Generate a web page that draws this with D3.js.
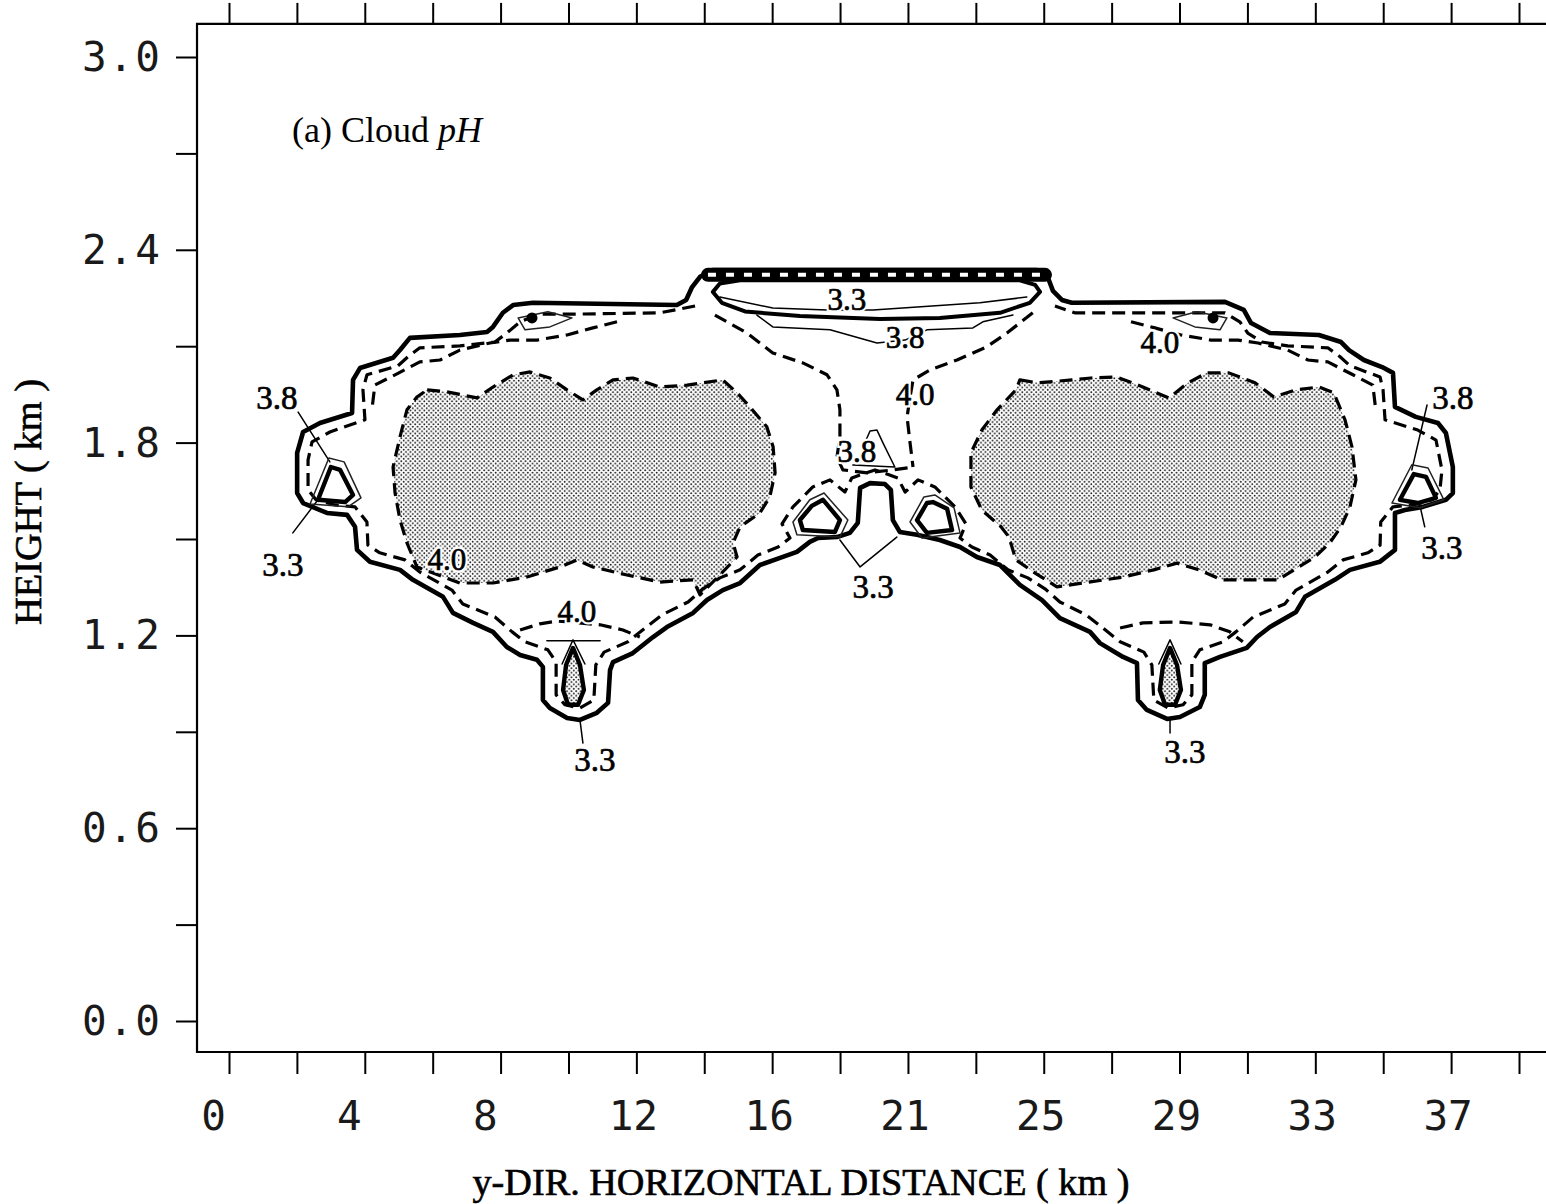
<!DOCTYPE html>
<html>
<head>
<meta charset="utf-8">
<script src="https://cdn.jsdelivr.net/npm/d3@7"></script>
<style>
  body { margin: 0; background: #fff; }
  svg { display: block; }
</style>
</head>
<body>
<svg id="chart" width="1546" height="1204"></svg>
<script>
// axis values (km)
const xTickStep = 39 / 19;
const xTicks = d3.range(20).map(i => i * xTickStep);
const xTickLabels = ["0", "4", "8", "12", "16", "21", "25", "29", "33", "37"];
const yTicks = [0, 0.3, 0.6, 0.9, 1.2, 1.5, 1.8, 2.1, 2.4, 2.7, 3.0];
const yTickLabels = ["0.0", "0.6", "1.2", "1.8", "2.4", "3.0"];
const xFrame = [-0.967, 40.2];
const yFrame = [-0.0965, 3.103];

// cloud boundary (thick solid), [y-distance km, height km]
const cloudEdge = [[2.06,1.643],[2.06,1.768],[2.24,1.833],[2.75,1.861],[3.72,1.892],[3.75,1.995],[3.96,2.032],[4.96,2.064],[5.17,2.088],[5.47,2.126],[6.98,2.135],[7.80,2.144],[7.98,2.160],[8.28,2.204],[8.59,2.228],[9.19,2.235],[13.54,2.228],[13.82,2.244],[14.00,2.284],[14.24,2.316],[14.63,2.337],[24.43,2.337],[24.76,2.313],[24.91,2.272],[25.18,2.244],[25.48,2.235],[30.11,2.238],[30.68,2.213],[30.90,2.172],[31.47,2.141],[32.95,2.135],[33.62,2.113],[33.86,2.088],[34.31,2.057],[34.86,2.035],[35.19,2.017],[35.25,1.911],[35.88,1.880],[36.55,1.861],[36.79,1.830],[37.00,1.724],[37.00,1.643],[36.79,1.622],[36.09,1.600],[35.55,1.590],[35.25,1.581],[35.25,1.466],[34.79,1.429],[33.89,1.404],[33.43,1.373],[32.53,1.320],[32.26,1.273],[31.47,1.226],[31.08,1.195],[30.77,1.161],[29.96,1.133],[29.50,1.114],[29.50,1.015],[29.35,0.977],[28.75,0.946],[28.36,0.940],[27.75,0.968],[27.48,0.999],[27.45,1.114],[27.03,1.133],[26.33,1.176],[26.03,1.211],[25.12,1.254],[24.58,1.310],[23.91,1.357],[23.31,1.419],[22.61,1.444],[22.10,1.475],[21.49,1.497],[20.80,1.513],[20.28,1.522],[20.07,1.559],[20.01,1.653],[19.83,1.671],[19.38,1.674],[19.08,1.659],[19.01,1.550],[18.77,1.519],[18.38,1.506],[17.81,1.503],[17.56,1.491],[17.17,1.460],[16.66,1.441],[16.05,1.419],[15.45,1.363],[14.93,1.341],[14.45,1.310],[14.03,1.270],[13.24,1.226],[12.82,1.195],[12.21,1.145],[11.61,1.117],[11.52,1.092],[11.46,0.990],[11.12,0.959],[10.61,0.937],[10.22,0.943],[9.70,0.974],[9.49,0.999],[9.49,1.102],[9.31,1.124],[8.80,1.139],[8.40,1.164],[7.98,1.211],[7.38,1.239],[6.77,1.270],[6.47,1.320],[5.56,1.373],[5.17,1.404],[4.26,1.429],[3.87,1.466],[3.81,1.538],[3.57,1.575],[2.96,1.581],[2.24,1.612]];

// dashed contour just inside the boundary
const innerRing = [[14.09,2.225],[13.03,2.204],[10.61,2.200],[9.40,2.200],[8.80,2.176],[8.40,2.141],[8.04,2.113],[6.98,2.101],[5.77,2.095],[5.41,2.067],[5.11,2.039],[4.17,2.011],[4.05,1.964],[4.11,1.871],[3.05,1.833],[2.51,1.802],[2.39,1.746],[2.39,1.653],[2.63,1.622],[3.20,1.606],[3.81,1.600],[4.17,1.553],[4.20,1.481],[4.56,1.457],[5.32,1.435],[5.77,1.397],[6.74,1.341],[7.07,1.298],[8.04,1.257],[8.56,1.211],[8.95,1.180],[9.64,1.155],[9.89,1.117],[9.89,1.015],[10.16,0.984],[10.61,0.974],[11.03,0.999],[11.09,1.108],[11.34,1.148],[12.06,1.180],[12.58,1.223],[13.09,1.264],[13.88,1.304],[14.33,1.345],[14.84,1.379],[15.45,1.404],[15.99,1.450],[16.60,1.475],[16.96,1.503],[16.72,1.547],[17.05,1.600],[17.65,1.662],[18.17,1.684],[18.62,1.646],[18.83,1.690],[19.53,1.715],[20.22,1.690],[20.44,1.646],[20.83,1.684],[21.34,1.662],[21.95,1.600],[22.28,1.547],[22.10,1.503],[22.46,1.475],[23.01,1.450],[23.55,1.404],[24.15,1.379],[24.67,1.345],[25.12,1.304],[25.91,1.264],[26.42,1.223],[26.94,1.180],[27.66,1.148],[27.90,1.108],[27.96,0.999],[28.39,0.974],[28.84,0.984],[29.11,1.015],[29.11,1.117],[29.35,1.155],[30.05,1.180],[30.44,1.211],[30.96,1.257],[31.92,1.298],[32.26,1.341],[33.22,1.397],[33.68,1.435],[34.43,1.457],[34.80,1.481],[34.82,1.553],[35.19,1.600],[35.79,1.606],[36.37,1.622],[36.61,1.653],[36.67,1.715],[36.49,1.808],[35.94,1.839],[34.95,1.871],[34.89,1.964],[34.80,2.004],[33.89,2.039],[33.59,2.067],[33.22,2.095],[32.01,2.101],[31.23,2.113],[30.80,2.141],[30.56,2.176],[30.11,2.204],[28.75,2.204],[25.57,2.204],[24.97,2.225]];

const upperRingLeft = [[11.73,2.176],[11.00,2.157],[10.22,2.135],[9.31,2.119],[8.49,2.119],[7.89,2.110],[6.98,2.088],[6.38,2.057],[5.77,2.051],[5.02,2.011],[4.41,1.979],[4.32,1.902]];
const upperRingRight = [[27.27,2.176],[27.99,2.157],[28.78,2.135],[29.69,2.119],[30.50,2.119],[31.11,2.110],[32.01,2.088],[32.62,2.057],[33.22,2.051],[33.98,2.011],[34.58,1.979],[34.67,1.902]];

// pH 4.0 funnel below the cap
const funnelLeft = [[14.69,2.197],[15.66,2.141],[16.44,2.079],[17.35,2.048],[18.08,2.011],[18.38,1.964],[18.47,1.902],[18.47,1.818],[18.38,1.755],[18.56,1.715],[19.29,1.706],[20.07,1.715],[20.68,1.724]];
const funnelRight = [[24.30,2.204],[23.52,2.141],[22.91,2.098],[22.01,2.057],[21.19,2.026],[20.68,1.995],[20.59,1.942],[20.50,1.880],[20.59,1.799],[20.68,1.724]];

// stippled regions
const blobLeft = [[5.99,1.964],[6.59,1.958],[7.50,1.939],[7.98,1.973],[8.59,2.011],[9.10,2.020],[9.70,2.001],[10.22,1.964],[10.70,1.933],[11.12,1.964],[11.61,1.995],[12.21,2.001],[13.03,1.973],[13.85,1.979],[14.93,1.995],[15.36,1.955],[15.75,1.911],[16.26,1.849],[16.45,1.787],[16.51,1.706],[16.35,1.631],[16.05,1.581],[15.45,1.538],[15.24,1.488],[15.36,1.444],[14.84,1.388],[14.24,1.326],[14.03,1.373],[13.03,1.366],[12.03,1.388],[11.00,1.413],[10.52,1.435],[10.01,1.413],[9.01,1.382],[7.98,1.363],[6.98,1.363],[6.17,1.394],[5.68,1.413],[5.38,1.488],[5.17,1.559],[5.02,1.643],[4.96,1.724],[5.17,1.818],[5.38,1.902],[5.68,1.942]];
const blobRight = [[23.91,1.995],[24.46,1.986],[25.48,1.995],[26.06,2.001],[26.84,2.004],[27.63,1.973],[28.42,1.939],[28.99,1.986],[29.56,2.017],[30.23,2.017],[31.02,1.986],[31.59,1.942],[32.26,1.964],[32.95,1.973],[33.40,1.955],[33.74,1.871],[33.95,1.787],[34.07,1.684],[33.89,1.600],[33.62,1.538],[33.28,1.488],[32.83,1.444],[32.04,1.394],[31.71,1.373],[30.90,1.373],[30.02,1.373],[29.32,1.404],[28.66,1.425],[27.96,1.404],[27.06,1.382],[25.82,1.363],[25.03,1.351],[24.37,1.394],[23.79,1.435],[23.58,1.506],[23.34,1.538],[22.76,1.590],[22.43,1.662],[22.43,1.768],[22.76,1.839],[23.22,1.902],[23.79,1.964]];

// cloud top cap
const capBand = [[14.48,2.322],[24.67,2.322]];
const capRing = [[14.63,2.269],[14.84,2.295],[15.45,2.305],[23.91,2.305],[24.37,2.291],[24.52,2.269],[24.21,2.235],[23.31,2.204],[21.49,2.188],[19.68,2.185],[17.26,2.194],[15.60,2.208],[14.90,2.235]];
const cap33 = [[14.84,2.253],[16.44,2.219],[18.08,2.213],[19.47,2.213],[22.70,2.235],[24.12,2.253]];
const cap38 = [[15.96,2.197],[16.44,2.160],[18.17,2.151],[19.59,2.110],[20.44,2.119],[21.10,2.151],[22.49,2.157],[22.79,2.176],[23.70,2.197]];
const center38 = [[19.26,1.808],[19.38,1.836],[19.59,1.839],[19.80,1.793],[20.13,1.724],[18.86,1.730]];

// pH 3.3 pockets (thick) and the 3.8 rings round them (thin)
const pockets = [
  [[2.69,1.622],[3.08,1.724],[3.36,1.715],[3.75,1.637],[3.51,1.615]],
  [[35.40,1.622],[35.82,1.702],[36.19,1.693],[36.49,1.628],[35.94,1.612]],
  [[17.26,1.559],[17.62,1.603],[17.96,1.622],[18.47,1.559],[18.32,1.522],[17.35,1.528]],
  [[20.80,1.559],[21.10,1.612],[21.28,1.615],[21.71,1.594],[21.86,1.528],[21.10,1.519]]
];
const pocketRings = [
  [[2.45,1.609],[3.02,1.752],[3.48,1.740],[3.99,1.628],[3.60,1.600]],
  [[35.16,1.612],[35.76,1.731],[36.25,1.721],[36.73,1.622],[36.00,1.597]],
  [[17.05,1.553],[17.56,1.622],[17.99,1.643],[18.71,1.559],[18.47,1.506],[17.17,1.513]],
  [[20.59,1.553],[21.01,1.631],[21.34,1.637],[21.92,1.597],[22.10,1.519],[20.95,1.503]]
];
const spikes = [
  [[10.40,1.161],[10.61,1.108],[10.73,1.030],[10.55,0.984],[10.25,0.984],[10.10,1.030],[10.19,1.108]],
  [[28.45,1.161],[28.66,1.108],[28.78,1.030],[28.60,0.984],[28.30,0.984],[28.14,1.030],[28.24,1.108]]
];
const spikeTips = [
  [[10.07,1.111],[10.40,1.186],[10.76,1.111]],
  [[28.11,1.111],[28.45,1.186],[28.78,1.111]]
];
const lobeArcs = [
  [[8.80,1.217],[9.40,1.236],[9.92,1.245],[11.22,1.233],[11.91,1.217],[12.42,1.195]],
  [[26.94,1.223],[27.63,1.239],[28.66,1.242],[29.66,1.233],[30.26,1.211],[30.65,1.180]]
];
const lobeBar = [[9.61,1.183],[11.22,1.183]];
const topDots = [[9.16,2.188],[29.75,2.188]];
const dotLoops = [
  [[8.74,2.188],[8.95,2.151],[9.70,2.160],[10.37,2.188],[9.64,2.207]],
  [[30.17,2.188],[29.96,2.151],[29.20,2.160],[28.54,2.188],[29.26,2.207]]
];

// label leaders
const leaders = [
  [[2.09,1.895],[3.05,1.740]],
  [[1.93,1.519],[2.69,1.622]],
  [[18.47,1.497],[19.08,1.413],[20.19,1.506]],
  [[36.22,1.917],[35.76,1.715]],
  [[36.15,1.538],[36.00,1.606]],
  [[10.61,0.937],[10.70,0.865]],
  [[28.45,0.937],[28.45,0.896]]
];

// contour labels: text, y-distance, height (text centre)
const bigLabels = [["3.8",1.45,1.939],["3.3",1.63,1.419],["3.3",19.47,1.351],["3.8",37.00,1.939],["3.3",36.67,1.472],["3.3",11.06,0.812],["3.3",28.90,0.837]];
const smallLabels = [["3.3",18.68,2.244],["3.8",20.44,2.126],["4.0",20.74,1.948],["3.8",18.98,1.771],["4.0",28.14,2.110],["4.0",6.59,1.435],["4.0",10.52,1.273]];

const svg = d3.select("#chart");
svg.append("rect").attr("width", 1546).attr("height", 1204).attr("fill", "#fff");

const x = d3.scaleLinear().domain([0, 39]).range([229, 1519]);
const y = d3.scaleLinear().domain([0, 3]).range([1021, 57]);

const defs = svg.append("defs");
const pat = defs.append("pattern").attr("id", "stip")
  .attr("patternUnits", "userSpaceOnUse").attr("width", 4.6).attr("height", 4.6);
pat.append("circle").attr("cx", 1.15).attr("cy", 1.15).attr("r", 0.92).attr("fill", "#111");
pat.append("circle").attr("cx", 3.45).attr("cy", 3.45).attr("r", 0.92).attr("fill", "#111");

const line = d3.line().x(d => x(d[0])).y(d => y(d[1]));
const closed = d3.line().x(d => x(d[0])).y(d => y(d[1])).curve(d3.curveLinearClosed);

const g = svg.append("g").attr("stroke-linejoin", "round").attr("stroke-linecap", "round");

// stippled regions
g.selectAll(".blob").data([blobLeft, blobRight]).enter().append("path")
  .attr("d", closed).attr("fill", "url(#stip)")
  .attr("stroke", "#000").attr("stroke-width", 3.2).attr("stroke-dasharray", "13 7")
  .attr("stroke-linecap", "butt");

// dashed contours
const dashed = [innerRing, upperRingLeft, upperRingRight, funnelLeft, funnelRight, ...lobeArcs];
g.selectAll(".dash").data(dashed).enter().append("path")
  .attr("d", line).attr("fill", "none")
  .attr("stroke", "#000").attr("stroke-width", 3.2).attr("stroke-dasharray", "13 7")
  .attr("stroke-linecap", "butt");

// cloud boundary
g.append("path").attr("d", closed(cloudEdge)).attr("fill", "none")
  .attr("stroke", "#000").attr("stroke-width", 4.6);

// cap
g.append("path").attr("d", line(capBand)).attr("fill", "none")
  .attr("stroke", "#000").attr("stroke-width", 14);
g.append("path").attr("d", line(capBand)).attr("fill", "none")
  .attr("stroke", "#fff").attr("stroke-width", 4).attr("stroke-dasharray", "8 10")
  .attr("stroke-linecap", "butt");
g.append("path").attr("d", closed(capRing)).attr("fill", "none")
  .attr("stroke", "#000").attr("stroke-width", 4);

// thin contours
const thin = [cap33, cap38, center38, lobeBar, ...spikeTips, ...leaders];
g.selectAll(".thin").data(thin).enter().append("path")
  .attr("d", line).attr("fill", "none").attr("stroke", "#000").attr("stroke-width", 1.5);
g.selectAll(".loop").data([...pocketRings, ...dotLoops]).enter().append("path")
  .attr("d", closed).attr("fill", "none").attr("stroke", "#222").attr("stroke-width", 1.5);

// pockets
g.selectAll(".pocket").data(pockets).enter().append("path")
  .attr("d", closed).attr("fill", "#fff").attr("stroke", "#000").attr("stroke-width", 4.4);
g.selectAll(".spike").data(spikes).enter().append("path")
  .attr("d", closed).attr("fill", "url(#stip)").attr("stroke", "#000").attr("stroke-width", 4.4);
g.selectAll(".dot").data(topDots).enter().append("circle")
  .attr("cx", d => x(d[0])).attr("cy", d => y(d[1])).attr("r", 5.5).attr("fill", "#000");

// contour labels: a white halo first, then the dark text
function addLabels(list, size) {
  const lg = svg.append("g")
    .attr("font-family", "'Liberation Serif', 'DejaVu Serif', serif")
    .attr("font-size", size).attr("text-anchor", "middle");
  lg.selectAll(".halo").data(list).enter().append("text")
    .attr("x", d => x(d[1])).attr("y", d => y(d[2]) + size * 0.33)
    .attr("fill", "#fff").attr("stroke", "#fff").attr("stroke-width", 5)
    .text(d => d[0]);
  lg.selectAll(".lab").data(list).enter().append("text")
    .attr("x", d => x(d[1])).attr("y", d => y(d[2]) + size * 0.33)
    .attr("fill", "#000").attr("stroke", "#000").attr("stroke-width", 0.7)
    .text(d => d[0]);
}
addLabels(bigLabels, 33);
addLabels(smallLabels, 31);

// frame
const fx0 = x(xFrame[0]), fx1 = x(xFrame[1]), fy0 = y(yFrame[0]), fy1 = y(yFrame[1]);
svg.append("path")
  .attr("d", `M${fx1},${fy1}H${fx0}V${fy0}H${fx1}`)
  .attr("fill", "none").attr("stroke", "#000").attr("stroke-width", 2.2);

// ticks
const tickStyle = sel => {
  sel.select(".domain").remove();
  sel.selectAll(".tick line").attr("stroke", "#000").attr("stroke-width", 2);
  sel.selectAll(".tick text").remove();
};
svg.append("g").attr("transform", `translate(0,${fy0})`)
  .call(d3.axisBottom(x).tickValues(xTicks).tickSize(22)).call(tickStyle);
svg.append("g").attr("transform", `translate(0,${fy1})`)
  .call(d3.axisTop(x).tickValues(xTicks).tickSize(21)).call(tickStyle);
svg.append("g").attr("transform", `translate(${fx0},0)`)
  .call(d3.axisLeft(y).tickValues(yTicks).tickSize(21)).call(tickStyle);

// tick labels
svg.append("g").selectAll("text").data(xTickLabels).enter().append("text")
  .attr("x", (d, i) => x(xTicks[i * 2]) - 27.7).attr("y", 1130)
  .attr("font-family", "'DejaVu Sans Mono', monospace").attr("font-size", 41)
  .attr("fill", "#1a1a1a").text(d => d);
svg.append("g").selectAll("text").data(yTickLabels).enter().append("text")
  .attr("x", 162).attr("y", d => y(+d) + 14)
  .attr("text-anchor", "end").attr("letter-spacing", 2)
  .attr("font-family", "'DejaVu Sans Mono', monospace").attr("font-size", 41)
  .attr("fill", "#1a1a1a").text(d => d);

// axis titles
svg.append("text").attr("x", 801).attr("y", 1195).attr("text-anchor", "middle")
  .attr("font-family", "'Liberation Serif', serif").attr("font-size", 37)
  .attr("textLength", 657).attr("lengthAdjust", "spacingAndGlyphs")
  .attr("stroke", "#000").attr("stroke-width", 0.6)
  .text("y-DIR. HORIZONTAL DISTANCE ( km )");
svg.append("text").attr("transform", "translate(41,502) rotate(-90)").attr("text-anchor", "middle")
  .attr("font-family", "'Liberation Serif', serif").attr("font-size", 37)
  .attr("textLength", 246).attr("lengthAdjust", "spacingAndGlyphs")
  .attr("stroke", "#000").attr("stroke-width", 0.6)
  .text("HEIGHT ( km )");

// panel title
const title = svg.append("text").attr("x", 292).attr("y", 142)
  .attr("font-family", "'Liberation Serif', serif").attr("font-size", 36);
title.append("tspan").text("(a) Cloud ");
title.append("tspan").attr("font-style", "italic").text("pH");
</script>
</body>
</html>
